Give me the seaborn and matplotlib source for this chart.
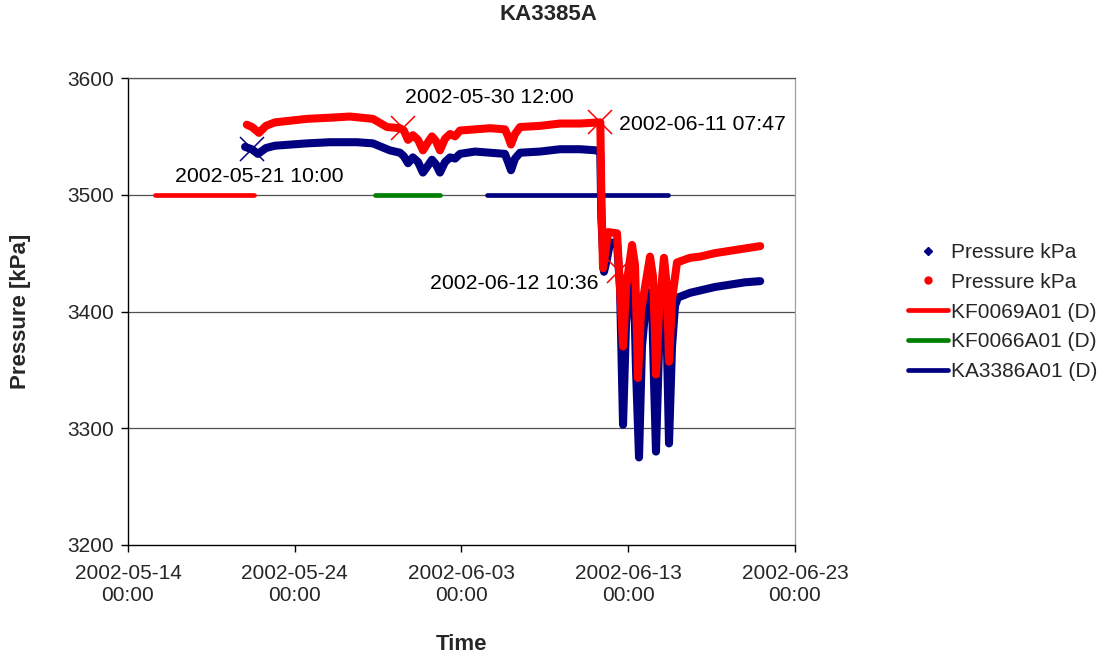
import matplotlib
matplotlib.use("Agg")
import matplotlib.pyplot as plt
from matplotlib.lines import Line2D
import pandas as pd
import seaborn as sns

# ---------------- data ----------------
title = "KA3385A"
x_label = "Time"
y_label = "Pressure [kPa]"

blue_times = [
    "2002-05-21 00:30", "2002-05-21 10:00", "2002-05-21 19:00", "2002-05-22 06:30",
    "2002-05-22 19:30", "2002-05-24 17:30", "2002-05-26 02:30", "2002-05-27 17:30",
    "2002-05-28 16:30", "2002-05-29 17:00", "2002-05-30 07:30", "2002-05-30 13:00",
    "2002-05-30 19:00", "2002-05-31 02:00", "2002-05-31 09:30", "2002-05-31 16:30",
    "2002-05-31 23:45", "2002-06-01 05:30", "2002-06-01 11:15", "2002-06-01 17:00",
    "2002-06-02 00:15", "2002-06-02 07:30", "2002-06-02 14:45", "2002-06-02 21:45",
    "2002-06-03 19:30", "2002-06-04 17:00", "2002-06-05 14:30", "2002-06-05 19:00",
    "2002-06-05 23:15", "2002-06-06 05:00", "2002-06-06 12:15", "2002-06-07 17:00",
    "2002-06-08 21:45", "2002-06-10 02:30", "2002-06-11 03:00", "2002-06-11 07:47",
    "2002-06-11 09:15", "2002-06-11 13:05", "2002-06-11 17:25", "2002-06-11 21:45",
    "2002-06-12 07:50", "2002-06-12 12:10", "2002-06-12 16:30", "2002-06-12 20:50",
    "2002-06-13 02:30", "2002-06-13 08:15", "2002-06-13 11:10", "2002-06-13 15:30",
    "2002-06-13 19:45", "2002-06-14 03:00", "2002-06-14 10:10", "2002-06-14 13:05",
    "2002-06-14 15:55", "2002-06-14 20:20", "2002-06-15 02:00", "2002-06-15 06:20",
    "2002-06-15 09:10", "2002-06-15 10:40", "2002-06-15 15:00", "2002-06-15 19:20",
    "2002-06-15 23:35", "2002-06-16 16:55", "2002-06-17 07:20", "2002-06-18 04:55",
    "2002-06-19 02:30", "2002-06-20 00:05", "2002-06-20 21:55",
]
blue_values = [
    3541, 3539, 3535, 3540, 3542, 3544, 3545, 3545,
    3544, 3538, 3536, 3533, 3527, 3532, 3528, 3519,
    3525, 3530, 3526, 3519, 3528, 3532, 3531, 3535,
    3537, 3536, 3535, 3528, 3521, 3531, 3536, 3537,
    3539, 3539, 3538, 3536, 3480, 3434, 3445, 3459,
    3459, 3420, 3303, 3390, 3427, 3420, 3350, 3275,
    3370, 3417, 3410, 3340, 3280, 3370, 3414, 3405,
    3330, 3287, 3370, 3405, 3412, 3416, 3418, 3421,
    3423, 3425, 3426,
]

red_times = [
    "2002-05-21 03:00", "2002-05-21 10:30", "2002-05-21 20:30", "2002-05-22 06:30",
    "2002-05-22 19:30", "2002-05-24 17:30", "2002-05-26 02:30", "2002-05-27 07:30",
    "2002-05-28 16:30", "2002-05-29 12:45", "2002-05-30 07:30", "2002-05-30 13:00",
    "2002-05-30 19:00", "2002-05-31 02:00", "2002-05-31 09:30", "2002-05-31 16:30",
    "2002-05-31 23:45", "2002-06-01 05:30", "2002-06-01 11:15", "2002-06-01 17:00",
    "2002-06-02 00:15", "2002-06-02 07:30", "2002-06-02 14:45", "2002-06-02 21:45",
    "2002-06-03 19:30", "2002-06-04 17:00", "2002-06-05 14:30", "2002-06-05 19:00",
    "2002-06-05 23:15", "2002-06-06 05:00", "2002-06-06 12:15", "2002-06-07 17:00",
    "2002-06-08 21:45", "2002-06-10 02:30", "2002-06-11 07:47", "2002-06-11 09:15",
    "2002-06-11 11:40", "2002-06-11 16:00", "2002-06-11 18:55", "2002-06-12 07:50",
    "2002-06-12 12:10", "2002-06-12 16:30", "2002-06-12 20:50", "2002-06-13 05:25",
    "2002-06-13 09:40", "2002-06-13 12:35", "2002-06-13 14:00", "2002-06-13 18:20",
    "2002-06-14 07:20", "2002-06-14 11:35", "2002-06-14 14:30", "2002-06-14 15:55",
    "2002-06-14 20:20", "2002-06-15 03:25", "2002-06-15 07:45", "2002-06-15 10:40",
    "2002-06-15 15:00", "2002-06-15 22:10", "2002-06-16 16:55", "2002-06-17 07:20",
    "2002-06-18 04:55", "2002-06-19 02:30", "2002-06-20 00:05", "2002-06-20 21:55",
]
red_values = [
    3560, 3558, 3553, 3559, 3562, 3565, 3566, 3567,
    3565, 3558, 3557, 3555, 3547, 3551, 3547, 3538,
    3545, 3550, 3546, 3538, 3548, 3552, 3550, 3555,
    3556, 3557, 3556, 3550, 3543, 3552, 3558, 3559,
    3561, 3561, 3562, 3500, 3437, 3455, 3468, 3467,
    3420, 3370, 3420, 3457, 3440, 3380, 3343, 3400,
    3447, 3430, 3380, 3346, 3400, 3446, 3420, 3357,
    3410, 3442, 3446, 3447, 3450, 3452, 3454, 3456,
]

# pumping intervals (drawn at 3500 kPa)
interval_names = ["KF0069A01 (D)", "KF0066A01 (D)", "KA3386A01 (D)"]
interval_starts = ["2002-05-15 15:00", "2002-05-28 19:30", "2002-06-04 12:45"]
interval_ends = ["2002-05-21 14:00", "2002-06-01 17:00", "2002-06-15 09:15"]
interval_level = [3500, 3500, 3500]
interval_colors = ["#FF0000", "#008000", "#000080"]

# annotated events
event_times = ["2002-05-21 10:00", "2002-05-30 12:00", "2002-06-11 07:47", "2002-06-12 10:36"]
event_values = [3539, 3557, 3562, 3435]
event_colors = ["#000080", "#FF0000", "#FF0000", "#FF0000"]
event_labels = ["2002-05-21 10:00", "2002-05-30 12:00", "2002-06-11 07:47", "2002-06-12 10:36"]
event_text_pos = [("2002-05-16 19:40", 3516, "left"),
                  ("2002-05-30 14:40", 3583, "left"),
                  ("2002-06-12 10:40", 3560, "left"),
                  ("2002-06-11 04:30", 3424, "right")]

x_ticks = ["2002-05-14", "2002-05-24", "2002-06-03", "2002-06-13", "2002-06-23"]
x_tick_labels = ["2002-05-14\n00:00", "2002-05-24\n00:00", "2002-06-03\n00:00",
                 "2002-06-13\n00:00", "2002-06-23\n00:00"]
y_ticks = [3200, 3300, 3400, 3500, 3600]

# ---------------- plotting ----------------
sns.set_theme(style="white")
plt.rcParams["font.family"] = ["Liberation Sans", "DejaVu Sans"]

blue_df = pd.DataFrame({"t": pd.to_datetime(blue_times), "p": blue_values})
red_df = pd.DataFrame({"t": pd.to_datetime(red_times), "p": red_values})

fig = plt.figure(figsize=(11.04, 6.57), dpi=100)
ax = fig.add_axes([128 / 1104, 1 - 545 / 657, 667 / 1104, 467 / 657])

for y in y_ticks[1:]:
    ax.axhline(y, color="#505050", lw=0.9, zorder=0)

for s, e, lvl, c in zip(interval_starts, interval_ends, interval_level, interval_colors):
    seg = pd.DataFrame({"t": pd.to_datetime([s, e]), "p": [lvl, lvl]})
    sns.lineplot(data=seg, x="t", y="p", color=c, lw=3.4, ax=ax,
                 solid_capstyle="round", zorder=2)

sns.lineplot(data=blue_df, x="t", y="p", color="#000080", lw=5.8, ax=ax,
             solid_joinstyle="round", solid_capstyle="round", zorder=3)
sns.lineplot(data=red_df, x="t", y="p", color="#FF0000", lw=5.8, ax=ax,
             solid_joinstyle="round", solid_capstyle="round", zorder=4)

for t, v, c in zip(event_times, event_values, event_colors):
    ax.plot(pd.to_datetime(t), v, marker="x", ms=17, mew=1.1, color=c,
            ls="none", zorder=5)

for lab, (t, v, ha) in zip(event_labels, event_text_pos):
    ax.text(pd.to_datetime(t), v, lab, ha=ha, va="center", fontsize=15.3,
            color="black", zorder=6)

ax.set_xlim(pd.to_datetime("2002-05-14"), pd.to_datetime("2002-06-23"))
ax.set_ylim(3200, 3600)
ax.set_xticks(pd.to_datetime(x_ticks))
ax.set_xticklabels(x_tick_labels, fontsize=15, linespacing=1.15)
ax.set_yticks(y_ticks)
ax.set_yticklabels([str(v) for v in y_ticks], fontsize=15)
ax.tick_params(axis="both", direction="out", length=5, width=1, color="black",
               bottom=True, left=True)
ax.tick_params(axis="x", pad=9)
ax.tick_params(axis="y", pad=5)

for side in ["left", "bottom"]:
    ax.spines[side].set_color("black")
    ax.spines[side].set_linewidth(1.0)
ax.spines["top"].set_color("#505050")
ax.spines["top"].set_linewidth(0.9)
ax.spines["right"].set_color("#a0a0a0")
ax.spines["right"].set_linewidth(0.9)

ax.set_xlabel(x_label, fontsize=16, fontweight="bold")
ax.set_ylabel(y_label, fontsize=16, fontweight="bold")
ax.xaxis.set_label_coords(0.5, -0.19)
ax.yaxis.set_label_coords(-0.145, 0.5)

fig.text(548 / 1104, 1 - 15 / 657, title, ha="center", va="center",
         fontsize=16, fontweight="bold")

handles = [
    Line2D([], [], color="#000080", marker="D", ms=4, ls="none"),
    Line2D([], [], color="#FF0000", marker="o", ms=5, ls="none"),
] + [Line2D([], [], color=c, lw=3.4) for c in interval_colors]
labels = ["Pressure kPa", "Pressure kPa"] + interval_names
fig.legend(handles, labels, loc="center left", bbox_to_anchor=(900 / 1104, 1 - 312 / 657),
           frameon=False, fontsize=15, handlelength=1.9, handletextpad=0.15,
           labelspacing=0.52, borderaxespad=0)

fig.savefig("out.png", dpi=100)
